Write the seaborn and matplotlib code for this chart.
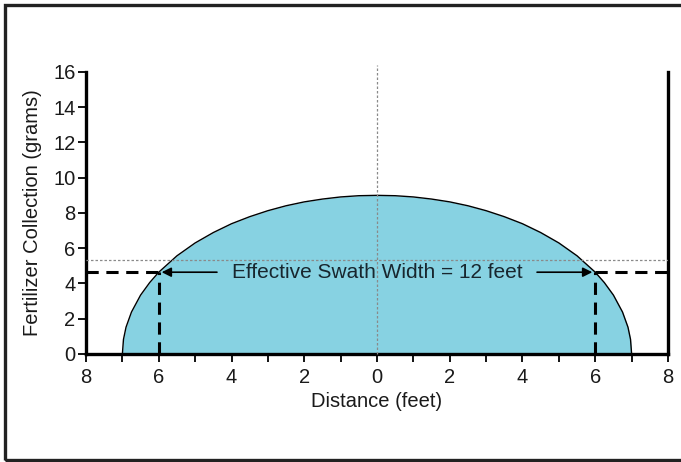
import numpy as np
import matplotlib
matplotlib.use("Agg")
import matplotlib.pyplot as plt
import seaborn as sns
from matplotlib.patches import Rectangle

# collection profile (semi-elliptical pattern)
distance = [-7.0, -6.97, -6.9, -6.75, -6.5, -6.25, -6.0, -5.5, -5.0, -4.5, -4.0,
            -3.5, -3.0, -2.5, -2.0, -1.5, -1.0, -0.5, 0.0,
            0.5, 1.0, 1.5, 2.0, 2.5, 3.0, 3.5, 4.0, 4.5, 5.0, 5.5,
            6.0, 6.25, 6.5, 6.75, 6.9, 6.97, 7.0]
collection = [0.0, 0.83, 1.52, 2.38, 3.34, 4.05, 4.64, 5.57, 6.30, 6.89, 7.39,
              7.79, 8.13, 8.41, 8.63, 8.79, 8.91, 8.98, 9.0,
              8.98, 8.91, 8.79, 8.63, 8.41, 8.13, 7.79, 7.39, 6.89, 6.30, 5.57,
              4.64, 4.05, 3.34, 2.38, 1.52, 0.83, 0.0]

swath_edges = [-6, 6]
swath_level = 4.64
average_level = 5.35
x_ticks = [-8, -6, -4, -2, 0, 2, 4, 6, 8]
x_tick_labels = ["8", "6", "4", "2", "0", "2", "4", "6", "8"]
y_ticks = [0, 2, 4, 6, 8, 10, 12, 14, 16]

sns.set_style("ticks")
plt.rcParams["font.family"] = ["Liberation Sans", "DejaVu Sans"]

fig = plt.figure(figsize=(6.81, 4.62), dpi=100)
ax = fig.add_axes([0.1263, 0.2338, 0.8546, 0.6104])

ax.fill_between(distance, collection, 0, color="#87d2e2", zorder=1, linewidth=0)
sns.lineplot(x=distance, y=collection, ax=ax, color="black", linewidth=1.0,
             sort=False, zorder=2)

# reference guides
ax.axhline(average_level, color="#8a8a8a", linestyle=(0, (2, 1.6)), linewidth=0.9, zorder=3)
ax.plot([0, 0], [0, 16.4], color="#8a8a8a", linestyle=(0, (2, 1.6)), linewidth=0.9,
        zorder=3, clip_on=False)

# swath width markers
dash = (0, (4, 2.5))
ax.plot([-8, swath_edges[0]], [swath_level, swath_level], color="black",
        linestyle=dash, linewidth=2.2, zorder=4)
ax.plot([swath_edges[1], 8], [swath_level, swath_level], color="black",
        linestyle=dash, linewidth=2.2, zorder=4)
for xe in swath_edges:
    ax.plot([xe, xe], [0, swath_level], color="black", linestyle=dash,
            linewidth=2.2, zorder=4)

ax.text(0, swath_level, "Effective Swath Width = 12 feet", ha="center",
        va="center", fontsize=15, color="#18262e", zorder=5)
arrow = dict(arrowstyle="-|>", color="black", lw=1.2, mutation_scale=14,
             shrinkA=0, shrinkB=0)
ax.annotate("", xy=(-5.92, swath_level), xytext=(-4.4, swath_level), arrowprops=arrow)
ax.annotate("", xy=(5.92, swath_level), xytext=(4.4, swath_level), arrowprops=arrow)

ax.set_xlim(-8, 8)
ax.set_ylim(0, 16)
ax.set_xticks(x_ticks)
ax.set_xticklabels(x_tick_labels)
ax.set_xticks(np.arange(-7, 8, 2), minor=True)
ax.set_yticks(y_ticks)
ax.tick_params(axis="both", which="both", direction="out", width=1.3,
               labelsize=14.5, colors="black", labelcolor="#1a1a1a")
ax.tick_params(axis="x", which="both", length=6, pad=4)
ax.tick_params(axis="y", length=6, pad=1.5)

for side in ["left", "bottom", "right"]:
    ax.spines[side].set_linewidth(2.4)
    ax.spines[side].set_color("black")
ax.spines["top"].set_visible(False)

ax.set_xlabel("Distance (feet)", fontsize=14.5, labelpad=4, color="#1a1a1a")
ax.set_ylabel("Fertilizer Collection (grams)", fontsize=14.5, labelpad=8,
              color="#1a1a1a")

# frame around the figure (open on the right, as in the source)
fig.patches.append(Rectangle((5 / 681, 2 / 462), 1.0, 1 - 7 / 462,
                             transform=fig.transFigure, fill=False,
                             edgecolor="#222222", linewidth=2.4, zorder=0))

fig.savefig("out.png", dpi=100)
